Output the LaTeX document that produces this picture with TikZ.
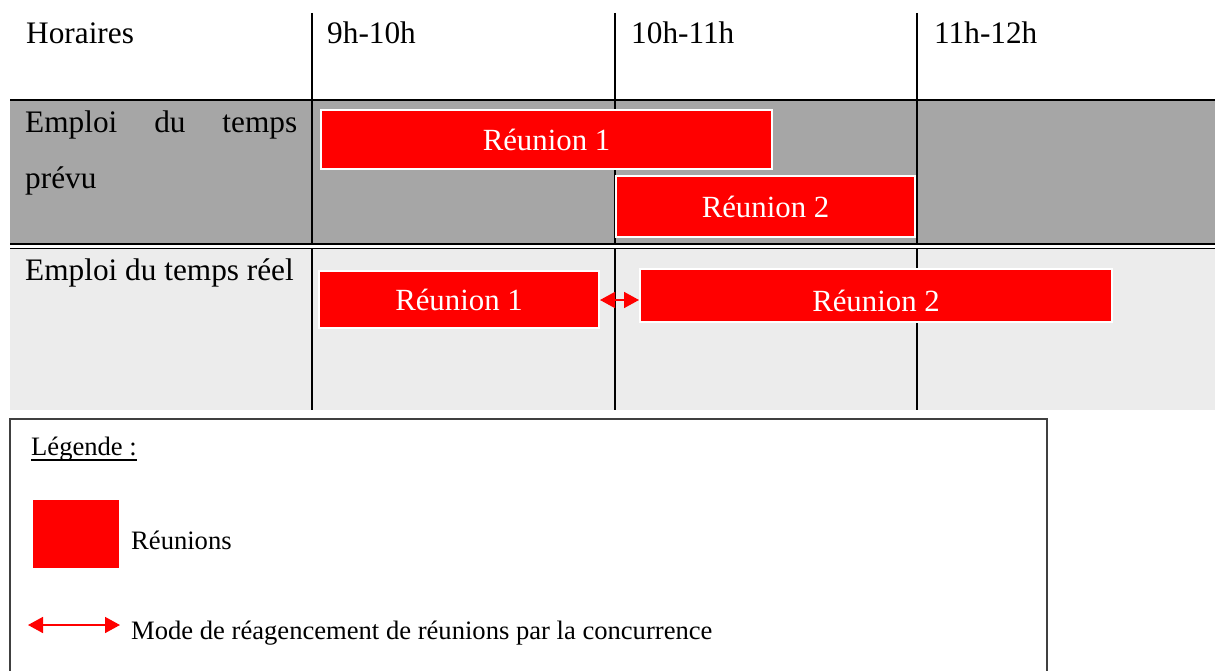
\documentclass[tikz,border=0pt]{standalone}
\usepackage{fontspec}
\setmainfont{Liberation Serif}
\usetikzlibrary{arrows.meta}
\definecolor{rowgray}{HTML}{A6A6A6}
\definecolor{rowlight}{HTML}{ECECEC}
\definecolor{boxframe}{HTML}{404040}
\begin{document}
\begin{tikzpicture}[x=1pt,y=-1pt,
  big/.style={font=\fontsize{31.3pt}{36pt}\selectfont},
  small/.style={font=\fontsize{26.6pt}{30pt}\selectfont},
  lbl/.style={inner sep=0pt,anchor=base west},
  meeting/.style={draw=white,line width=2pt,fill=red,text=white,inner sep=0pt,anchor=north west,font=\fontsize{30.8pt}{36pt}\selectfont},
  grid/.style={line width=1.5pt,black},
  dblarrow/.style={red,line width=1.6pt,{Triangle[length=15pt,width=16pt]}-{Triangle[length=15pt,width=16pt]}}]
\useasboundingbox (0,0) rectangle (1215,671);
% row backgrounds
\fill[rowgray] (10,100) rectangle (1215,244);
\fill[rowlight] (10,248) rectangle (1215,410);
% grid lines
\foreach \x in {312,615,917}{
  \draw[grid] (\x,13) -- (\x,244);
  \draw[grid] (\x,248) -- (\x,410);
}
\draw[line width=2pt] (10,100) -- (1215,100);
\draw[line width=2pt] (10,244) -- (1215,244);
\draw[line width=1pt] (10,248) -- (1215,248);
% header texts
\node[lbl,big] (hor) at (26,44) {Horaires};
\node[lbl,big] (h9) at (327,44) {9h-10h};
\node[lbl,big] (h10) at (631,44) {10h-11h};
\node[lbl,big] (h11) at (934,44) {11h-12h};
% row labels
\node[lbl,big] (prevu1) at (25,133) {\hbox to 272pt{Emploi\hfill du\hfill temps}};
\node[lbl,big] (prevu2) at (25,189) {prévu};
\node[lbl,big] (reel) at (25,280) {\hbox to 272pt{Emploi du temps réel\hss}};
% meetings
\node[meeting,minimum width=451pt,minimum height=59pt] (p1) at (320,109) {Réunion 1};
\node[meeting,minimum width=299pt,minimum height=61pt] (p2) at (615,175) {Réunion 2};
\node[meeting,minimum width=280pt,minimum height=57pt] (r1) at (318,270) {Réunion 1};
\node[meeting,minimum width=472pt,minimum height=53pt,text height=31pt,text depth=0pt] (r2) at (639,268) {Réunion 2};
\coordinate (arrowy) at (0,300);
\draw[dblarrow] (r1.east |- arrowy) -- (r2.west |- arrowy);
% legend
\draw[boxframe,line width=1.2pt] (10,680) -- (10,419) -- (1047,419) -- (1047,680);
\node[lbl,small] (leg) at (31,455) {Légende :};
\draw[line width=1.3pt] ([yshift=-5pt]leg.base west) -- ([yshift=-5pt]leg.base east);
\node[fill=red,inner sep=0pt,minimum width=86pt,minimum height=68pt,anchor=north west] (sq) at (33,500) {};
\node[lbl,small] (lreu) at (131,549) {Réunions};
\coordinate (la) at (28,625);
\coordinate (lb) at (120,625);
\draw[dblarrow] (la) -- (lb);
\node[lbl,small] (lmode) at (131,639) {Mode de réagencement de réunions par la concurrence};
\end{tikzpicture}
\end{document}
